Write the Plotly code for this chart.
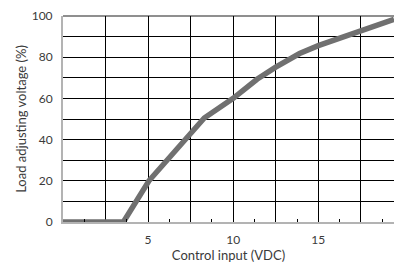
import plotly.graph_objects as go

# Data
control_vdc = [0, 3.55, 5.05, 8.3, 10.0, 11.4, 12.5, 13.9, 15.0, 17.5, 19.45]
load_pct = [0, 0, 20.0, 50.5, 60.0, 69.3, 75.2, 81.8, 85.6, 92.8, 98.4]

x_grid_vals = [2.5, 5, 7.5, 10, 12.5, 15, 17.5]
x_grid_text = ["", "5", "", "10", "", "15", ""]
x_minor_ticks = [1.25, 3.75, 6.25, 8.75, 11.25, 13.75, 16.25, 18.75]
y_tick_vals = [0, 20, 40, 60, 80, 100]
y_tick_text = ["0", "20", "40", "60", "80", "100"]

FONT = "Lato"
TXT = "#3a3a3a"
GRID = "#000000"

fig = go.Figure()
fig.add_trace(go.Scatter(
    x=control_vdc, y=load_pct, mode="lines",
    line=dict(color="#707070", width=5.5),
    cliponaxis=False, showlegend=False, hoverinfo="skip",
))

fig.update_layout(
    width=394, height=264,
    margin=dict(l=63, r=0, t=16, b=42),
    paper_bgcolor="white", plot_bgcolor="white",
    font=dict(family=FONT, size=12, color=TXT),
    xaxis=dict(
        range=[0, 19.45],
        tickmode="array", tickvals=x_grid_vals, ticktext=x_grid_text,
        showgrid=True, gridcolor=GRID, gridwidth=1,
        zeroline=False, showline=True, linecolor="#b3b3b3", linewidth=2,
        ticks="", ticklabelstandoff=6,
        tickfont=dict(family=FONT, size=12, color=TXT),
        minor=dict(tickmode="array", tickvals=x_minor_ticks, ticks="inside",
                   ticklen=3, tickwidth=1, tickcolor=GRID, showgrid=False),
        title=dict(text="Control input (VDC)", standoff=2,
                   font=dict(family=FONT, size=13, color=TXT)),
        fixedrange=True,
    ),
    yaxis=dict(
        range=[0, 100],
        tickmode="array", tickvals=y_tick_vals, ticktext=y_tick_text,
        showgrid=True, gridcolor=GRID, gridwidth=1,
        zeroline=False, showline=True, linecolor="#b3b3b3", linewidth=2,
        ticks="", ticklabelstandoff=6,
        tickfont=dict(family=FONT, size=12, color=TXT),
        minor=dict(dtick=10, showgrid=True, gridcolor=GRID, gridwidth=1, ticks=""),
        title=dict(text="Load adjusting voltage (%)", standoff=2,
                   font=dict(family=FONT, size=13, color=TXT)),
        fixedrange=True,
    ),
    shapes=[dict(type="line", xref="paper", yref="paper", x0=0, x1=1, y0=1, y1=1,
                 line=dict(color="#6a6a6a", width=1.5), layer="between")],
)

fig.write_html(
    "out.html",
    config={"displayModeBar": False, "staticPlot": True},
    post_script="document.body.style.margin='0';document.body.style.padding='0';",
)
